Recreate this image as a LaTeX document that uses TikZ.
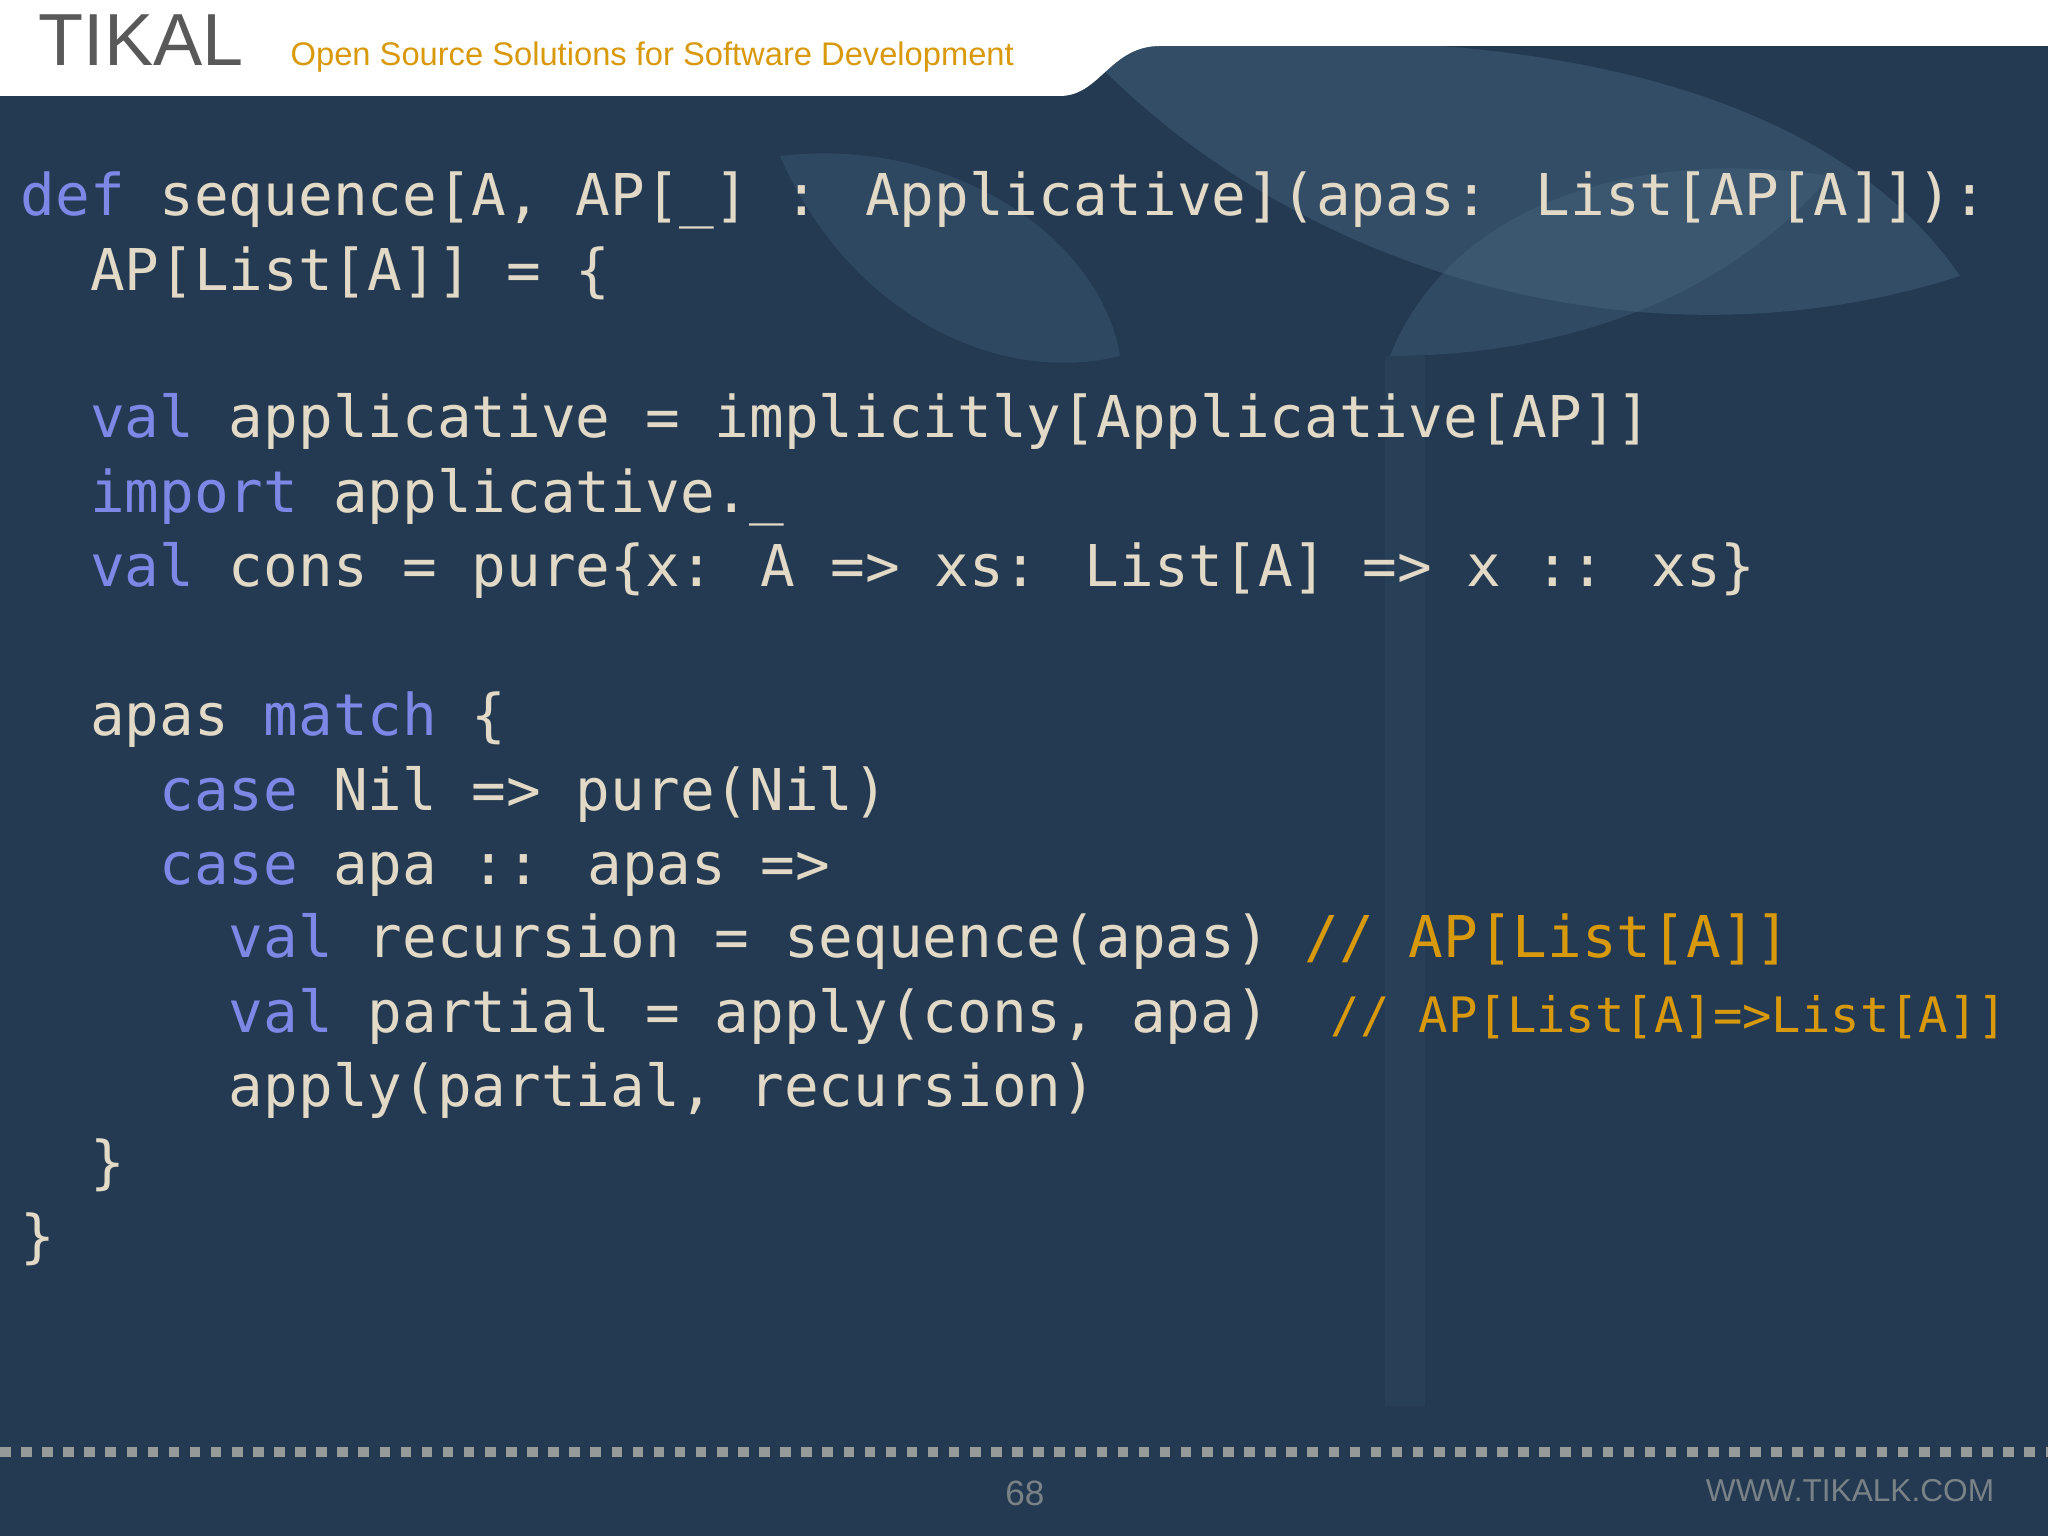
\documentclass[tikz,border=0pt]{standalone}
\usepackage{fontspec}
\setmainfont{Liberation Sans}
\newfontfamily\codefont{DejaVu Sans Mono}
\definecolor{bg}{HTML}{243A52}
\definecolor{tx}{HTML}{E2D9C6}
\definecolor{kw}{HTML}{7D88E6}
\definecolor{cm}{HTML}{D9990C}
\definecolor{leaf}{HTML}{4A6A85}
\newcommand{\kw}[1]{\textcolor{kw}{#1}}
\newcommand{\cmt}[1]{\textcolor{cm}{#1}}
\begin{document}
\begin{tikzpicture}[x=1cm,y=1cm,
  code/.style={anchor=base west,inner sep=0pt,text=tx,font=\codefont\fontsize{16.4pt}{18pt}\selectfont}]
\useasboundingbox (0,0) rectangle (20.48,15.36);
\fill[bg] (0,0) rectangle (20.48,15.36);
% leaves
\fill[leaf,opacity=0.4] (10.9,14.8) .. controls (13.0,12.6) and (16.5,11.6) .. (19.6,12.6) .. controls (18.5,14.2) and (16,15.2) .. (11.5,14.9) -- cycle;
\fill[leaf,opacity=0.3] (7.8,13.8) .. controls (8.5,12.2) and (10,11.5) .. (11.2,11.8) .. controls (11.0,13.0) and (9.5,14.0) .. (7.8,13.8) -- cycle;
\fill[leaf,opacity=0.35] (13.9,11.8) .. controls (14.5,13.3) and (16.3,13.9) .. (18.3,13.6) .. controls (17.2,12.3) and (15.5,11.8) .. (13.9,11.8) -- cycle;
\fill[leaf,opacity=0.12] (13.85,11.8) rectangle (14.25,1.3);
% header
\fill[white] (0,15.36) -- (20.48,15.36) -- (20.48,14.9) -- (11.6,14.9) .. controls (11.1,14.9) and (11.0,14.4) .. (10.6,14.4) -- (0,14.4) -- cycle;
\node[anchor=base west,inner sep=0pt,text=black!65,font=\fontsize{21pt}{22pt}\selectfont] (logo) at (0.38,14.7) {TIKAL};
\node[anchor=base west,inner sep=0pt,text=cm,font=\fontsize{9.3pt}{11pt}\selectfont] (tag) at (2.9,14.7) {Open Source Solutions for Software Development};
% code
\node[code] (l1) at (0.2,13.20) {\kw{def} sequence[A, AP[\_] : Applicative](apas: List[AP[A]]):};
\node[code] (l2) at (0.2,12.45) {~~AP[List[A]] = \{};
\node[code] (l3) at (0.2,10.98) {~~\kw{val} applicative = implicitly[Applicative[AP]]};
\node[code] (l4) at (0.2,10.23) {~~\kw{import} applicative.\_};
\node[code] (l5) at (0.2,9.49) {~~\kw{val} cons = pure\{x: A => xs: List[A] => x :: xs\}};
\node[code] (l6) at (0.2,8.00) {~~apas \kw{match} \{};
\node[code] (l7) at (0.2,7.25) {~~~~\kw{case} Nil => pure(Nil)};
\node[code] (l8) at (0.2,6.51) {~~~~\kw{case} apa :: apas =>};
\node[code] (l9) at (0.2,5.78) {~~~~~~\kw{val} recursion = sequence(apas) \cmt{// AP[List[A]]}};
\node[code] (l10) at (0.2,5.03) {~~~~~~\kw{val} partial = apply(cons, apa)};
\node[code,text=cm,font=\codefont\fontsize{13.9pt}{16pt}\selectfont] (c10) at (13.3,5.03) {// AP[List[A]=>List[A]]};
\node[code] (l11) at (0.2,4.29) {~~~~~~apply(partial, recursion)};
\node[code] (l12) at (0.2,3.53) {~~\}};
\node[code] (l13) at (0.2,2.79) {\}};
% footer
\draw[tx!60!bg,line width=3pt,dash pattern=on 3pt off 3pt] (0,0.84) -- (20.48,0.84);
\node[text=tx!45!bg,font=\fontsize{10pt}{12pt}\selectfont] (pg) at (10.25,0.43) {68};
\node[text=tx!45!bg,font=\fontsize{9pt}{11pt}\selectfont] (www) at (18.5,0.45) {WWW.TIKALK.COM};
\end{tikzpicture}
\end{document}
